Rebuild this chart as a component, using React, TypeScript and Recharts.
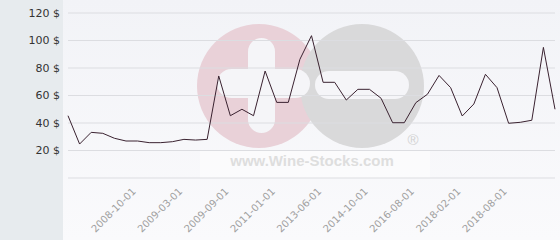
import { LineChart, Line, XAxis, YAxis, CartesianGrid } from 'recharts';

const dates = [
  '2008-04-01', '2008-05-01', '2008-06-01', '2008-07-01', '2008-08-01', '2008-09-01', '2008-10-01',
  '2008-11-01', '2008-12-01', '2009-01-01', '2009-03-01',
  '2009-04-01', '2009-05-01', '2009-07-01', '2009-09-01',
  '2010-01-01', '2010-05-01', '2010-09-01', '2011-01-01',
  '2011-09-01', '2012-04-01', '2012-11-01', '2013-06-01',
  '2013-10-01', '2014-02-01', '2014-06-01', '2014-10-01',
  '2015-04-01', '2015-09-01', '2016-02-01', '2016-08-01',
  '2016-12-01', '2017-05-01', '2017-09-01', '2018-02-01',
  '2018-03-01', '2018-05-01', '2018-07-01', '2018-08-01',
  '2018-10-01', '2018-12-01', '2019-02-01', '2019-04-01',
];

const prices = [
  45.3, 24.7, 33.2, 32.5, 28.9, 26.9, 26.9, 25.7, 25.7, 26.4, 28.1, 27.6, 28.1,
  74.2, 45.3, 50, 45.3, 77.8, 55, 55, 86.3, 103.5, 69.6, 69.6, 56.7, 64.5, 64.5,
  58, 40.2, 40.2, 54.8, 60.9, 74.6, 65.7, 45.1, 53.8, 75.4, 65.7, 39.8, 40.5,
  42, 95, 50,
];

const tickLabels = [
  '2008-10-01', '2009-03-01', '2009-09-01', '2011-01-01', '2013-06-01',
  '2014-10-01', '2016-08-01', '2018-02-01', '2018-08-01',
];

const yTicks = [0, 20, 40, 60, 80, 100, 120];

const data = dates.map((d, i) => ({ date: d, price: prices[i] }));

const DateTick = ({ x, y, payload }: any) => {
  if (!tickLabels.includes(payload.value)) return null;
  const ax = x - 1;
  const ay = y + 6;
  return (
    <text
      x={ax}
      y={ay}
      transform={`rotate(-45, ${ax}, ${ay})`}
      textAnchor="end"
      fill="#a0a0a0"
      fontSize={10}
      fontFamily="DejaVu Sans, sans-serif"
    >
      {payload.value}
    </text>
  );
};

const Watermark = () => (
  <svg width={560} height={240} style={{ position: 'absolute', left: 0, top: 0 }}>
    <circle cx={259} cy={86} r={62} fill="#e9d1d8" />
    <circle cx={362} cy={86} r={62} fill="#d9d9da" />
    <rect x={248} y={38} width={27} height={95} rx={13.5} fill="#f5f5f8" />
    <rect x={217} y={69} width={93} height={29} rx={14.5} fill="#f5f5f8" />
    <rect x={315} y={71} width={94} height={28} rx={14} fill="#f5f5f8" />
    <rect x={200} y={150} width={230} height={28} fill="#ffffff" opacity={0.45} />
    <text x={413} y={145} textAnchor="middle" fill="#d2d2d2" fontSize={15} fontFamily="Liberation Sans, Arial, sans-serif">®</text>
    <text x={312} y={166} textAnchor="middle" fill="#dedede" fontSize={15} fontWeight="bold" fontFamily="Liberation Sans, Arial, sans-serif">
      www.Wine-Stocks.com
    </text>
  </svg>
);

export default function App() {
  return (
    <div style={{ position: 'relative', width: 560, height: 240, overflow: 'hidden', background: '#e7ebee' }}>
      <style>{'body{margin:0}'}</style>
      <div
        style={{
          position: 'absolute', left: 63, top: 0, width: 497, height: 240,
          background: 'linear-gradient(#f2f3f7, #fafafc)',
        }}
      />
      <Watermark />
      <div style={{ position: 'absolute', left: 0, top: 0 }}>
        <LineChart width={560} height={240} data={data} margin={{ top: 13, right: 5, bottom: 0, left: 0 }}>
          <CartesianGrid vertical={false} stroke="#dcdde1" strokeWidth={1} />
          <XAxis
            dataKey="date"
            height={62}
            axisLine={false}
            tickLine={false}
            interval={0}
            tick={<DateTick />}
          />
          <YAxis
            width={68}
            domain={[0, 120]}
            ticks={yTicks}
            axisLine={false}
            tickLine={false}
            tickSize={6}
            tickMargin={2}
            tick={{ fill: '#333', fontSize: 11, fontFamily: 'DejaVu Sans, sans-serif' }}
            tickFormatter={(v: number) => (v === 0 ? '' : `${v} $`)}
          />
          <Line
            type="linear"
            dataKey="price"
            stroke="#3a2230"
            strokeWidth={1}
            dot={false}
            isAnimationActive={false}
          />
        </LineChart>
      </div>
    </div>
  );
}
